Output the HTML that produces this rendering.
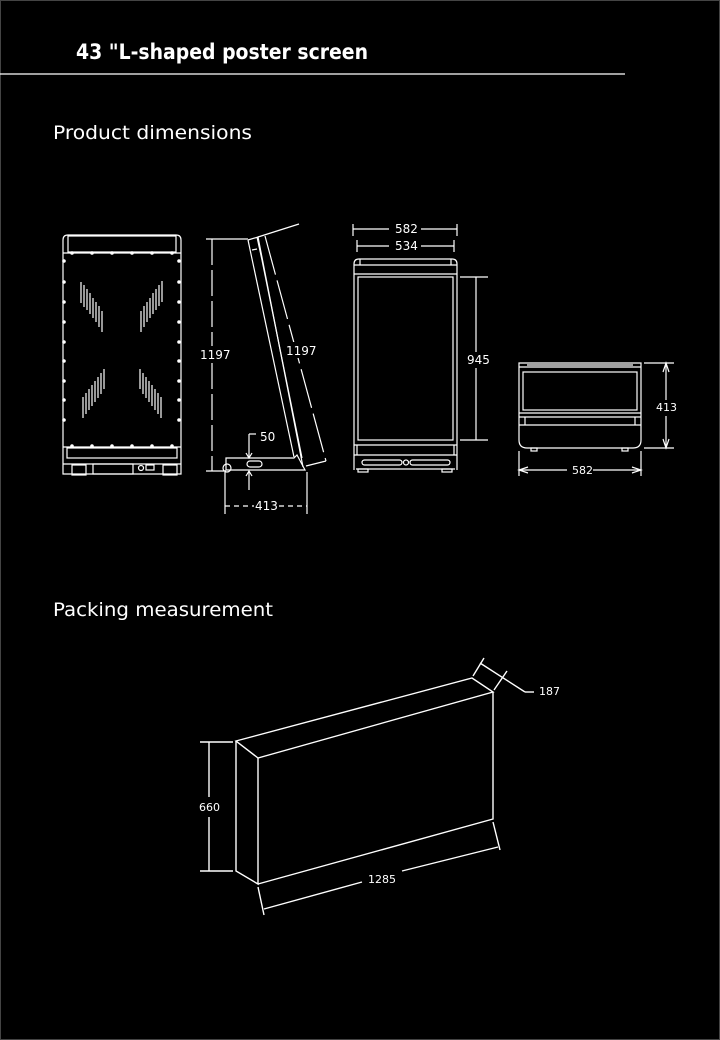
<!DOCTYPE html>
<html><head><meta charset="utf-8"><style>
html,body{margin:0;padding:0;background:#000;}
body{width:720px;height:1040px;position:relative;overflow:hidden;font-family:"Liberation Sans",sans-serif;}
svg{position:absolute;left:0;top:0;}
.t{font-family:"DejaVu Sans","Liberation Sans",sans-serif;fill:#fff;}
</style></head><body>
<svg width="720" height="1040" viewBox="0 0 720 1040">
<rect x="0.5" y="0.5" width="719" height="1039" fill="none" stroke="#444" stroke-width="1"/>
<text x="76" y="59" class="t" font-size="21" font-weight="bold" textLength="292" lengthAdjust="spacingAndGlyphs">43 "L-shaped poster screen</text>
<line x1="0" y1="74" x2="625" y2="74" stroke="#fff" stroke-width="1.2"/>
<text x="53" y="139" class="t" font-size="19" textLength="199" lengthAdjust="spacingAndGlyphs">Product  dimensions</text>
<text x="53" y="616" class="t" font-size="19" textLength="220" lengthAdjust="spacingAndGlyphs">Packing  measurement</text>

<g stroke="#fff" fill="none" stroke-width="1.2">
<path d="M63 474 V240 Q63 235 68 235 H176 Q181 235 181 240 V474 Z"/>
<rect x="68" y="236" width="108" height="16"/>
<line x1="63" y1="253" x2="181" y2="253"/>
<line x1="63" y1="447" x2="181" y2="447"/>
<rect x="67" y="448" width="110" height="10"/>
<line x1="63" y1="464" x2="181" y2="464"/>
<rect x="93" y="464" width="40" height="10"/>
<rect x="72" y="465" width="14" height="10"/><rect x="163" y="465" width="14" height="10"/>
<circle cx="141" cy="468" r="2.5"/><rect x="146" y="465" width="8" height="5"/>
</g>
<g fill="#fff">
<circle cx="72" cy="253" r="1.8"/><circle cx="92" cy="253" r="1.8"/><circle cx="112" cy="253" r="1.8"/><circle cx="132" cy="253" r="1.8"/><circle cx="152" cy="253" r="1.8"/><circle cx="172" cy="253" r="1.8"/>
<circle cx="72" cy="446" r="1.8"/><circle cx="92" cy="446" r="1.8"/><circle cx="112" cy="446" r="1.8"/><circle cx="132" cy="446" r="1.8"/><circle cx="152" cy="446" r="1.8"/><circle cx="172" cy="446" r="1.8"/>
<circle cx="64" cy="261" r="1.8"/><circle cx="64" cy="282" r="1.8"/><circle cx="64" cy="302" r="1.8"/><circle cx="64" cy="322" r="1.8"/><circle cx="64" cy="342" r="1.8"/><circle cx="64" cy="361" r="1.8"/><circle cx="64" cy="381" r="1.8"/><circle cx="64" cy="400" r="1.8"/><circle cx="64" cy="420" r="1.8"/>
<circle cx="179" cy="261" r="1.8"/><circle cx="179" cy="282" r="1.8"/><circle cx="179" cy="302" r="1.8"/><circle cx="179" cy="322" r="1.8"/><circle cx="179" cy="342" r="1.8"/><circle cx="179" cy="361" r="1.8"/><circle cx="179" cy="381" r="1.8"/><circle cx="179" cy="400" r="1.8"/><circle cx="179" cy="420" r="1.8"/>
</g>
<g stroke="#fff" stroke-width="1.2">
<line x1="81" y1="282" x2="81" y2="303"/><line x1="84" y1="285" x2="84" y2="307"/><line x1="87" y1="289" x2="87" y2="310"/><line x1="90" y1="293" x2="90" y2="314"/><line x1="93" y1="298" x2="93" y2="318"/><line x1="96" y1="302" x2="96" y2="322"/><line x1="99" y1="306" x2="99" y2="327"/><line x1="102" y1="311" x2="102" y2="332"/>
<line x1="162" y1="281" x2="162" y2="302"/><line x1="159" y1="285" x2="159" y2="306"/><line x1="156" y1="289" x2="156" y2="310"/><line x1="153" y1="293" x2="153" y2="314"/><line x1="150" y1="298" x2="150" y2="318"/><line x1="147" y1="302" x2="147" y2="322"/><line x1="144" y1="306" x2="144" y2="327"/><line x1="141" y1="311" x2="141" y2="332"/>
<line x1="104" y1="369" x2="104" y2="389"/><line x1="101" y1="373" x2="101" y2="394"/><line x1="98" y1="377" x2="98" y2="398"/><line x1="95" y1="381" x2="95" y2="402"/><line x1="92" y1="385" x2="92" y2="406"/><line x1="89" y1="389" x2="89" y2="410"/><line x1="86" y1="393" x2="86" y2="414"/><line x1="83" y1="397" x2="83" y2="418"/>
<line x1="140" y1="369" x2="140" y2="389"/><line x1="143" y1="373" x2="143" y2="394"/><line x1="146" y1="377" x2="146" y2="398"/><line x1="149" y1="381" x2="149" y2="402"/><line x1="152" y1="385" x2="152" y2="406"/><line x1="155" y1="389" x2="155" y2="410"/><line x1="158" y1="393" x2="158" y2="414"/><line x1="161" y1="397" x2="161" y2="418"/>
</g>

<g stroke="#fff" fill="none" stroke-width="1.2">
<line x1="206" y1="239" x2="248" y2="239"/>
<line x1="206" y1="471" x2="226" y2="471"/>
<line x1="212" y1="239" x2="212" y2="471" stroke-dasharray="26 5"/>
<path d="M248 240 L258 237 L303 467"/>
<path d="M248 240 L294 457"/>
<path d="M252 250 L257 249"/>
<line x1="257" y1="237" x2="262" y2="260"/>
<line x1="262" y1="260" x2="302" y2="458"/>
<line x1="258" y1="237" x2="299" y2="224"/>
<line x1="306" y1="466" x2="326" y2="461"/>
<line x1="265" y1="236" x2="326" y2="461" stroke-dasharray="40 6"/>
<path d="M226 458 H294 L297 455 L305 470 H226 Z"/>
<circle cx="227" cy="468" r="4"/>
<rect x="247" y="461" width="15" height="6" rx="3"/>
<polyline points="249,434 249,458"/><line x1="249" y1="434" x2="256" y2="434"/>
<path d="M246 453 L249 458 L252 453"/>
<line x1="249" y1="471" x2="249" y2="490"/><path d="M246 476 L249 471 L252 476"/>
<line x1="225" y1="472" x2="225" y2="514"/><line x1="307" y1="472" x2="307" y2="514"/>
<line x1="225" y1="506" x2="307" y2="506" stroke-dasharray="5 4"/>
</g>
<rect x="254" y="500" width="24" height="12" fill="#000"/>
<text x="255" y="510" class="t" font-size="12">413</text>
<rect x="199" y="346" width="30" height="16" fill="#000"/>
<text x="200" y="359" class="t" font-size="12">1197</text>
<rect x="285" y="342" width="30" height="16" fill="#000"/>
<text x="286" y="355" class="t" font-size="12">1197</text>
<text x="260" y="441" class="t" font-size="12">50</text>

<g stroke="#fff" fill="none" stroke-width="1.2">
<path d="M354 470 V264 Q354 259 359 259 H452 Q457 259 457 264 V470"/>
<line x1="354" y1="265" x2="457" y2="265"/>
<line x1="360" y1="259" x2="360" y2="265"/><line x1="451" y1="259" x2="451" y2="265"/>
<line x1="354" y1="274" x2="457" y2="274"/>
<rect x="358" y="277" width="95" height="163"/>
<line x1="354" y1="445" x2="457" y2="445"/>
<line x1="357" y1="445" x2="357" y2="455"/><line x1="454" y1="445" x2="454" y2="455"/>
<line x1="354" y1="455" x2="457" y2="455"/>
<rect x="362" y="460" width="40" height="5" rx="2.5"/><rect x="410" y="460" width="40" height="5" rx="2.5"/>
<circle cx="406" cy="462.5" r="2.5"/>
<line x1="356" y1="469" x2="455" y2="469"/>
<rect x="358" y="469" width="10" height="3"/><rect x="442" y="469" width="10" height="3"/>
<line x1="353" y1="224" x2="353" y2="236"/><line x1="457" y1="224" x2="457" y2="236"/>
<line x1="353" y1="229" x2="457" y2="229"/>
<line x1="357" y1="240" x2="357" y2="252"/><line x1="454" y1="240" x2="454" y2="252"/>
<line x1="357" y1="246" x2="454" y2="246"/>
<line x1="460" y1="277" x2="488" y2="277"/><line x1="460" y1="440" x2="488" y2="440"/>
<line x1="476" y1="277" x2="476" y2="440"/>
</g>
<rect x="389" y="222" width="32" height="14" fill="#000"/>
<text x="395" y="233" class="t" font-size="12">582</text>
<rect x="389" y="239" width="32" height="14" fill="#000"/>
<text x="395" y="250" class="t" font-size="12">534</text>
<rect x="466" y="352" width="24" height="16" fill="#000"/>
<text x="467" y="364" class="t" font-size="12">945</text>

<g stroke="#fff" fill="none" stroke-width="1.2">
<path d="M519 363 H641 V440 Q641 448 633 448 H527 Q519 448 519 440 Z"/>
<line x1="519" y1="367" x2="641" y2="367"/>
<line x1="527" y1="365" x2="633" y2="365"/>
<rect x="523" y="372" width="114" height="38"/>
<line x1="519" y1="413" x2="641" y2="413"/>
<line x1="519" y1="417" x2="641" y2="417"/>
<line x1="519" y1="425" x2="641" y2="425"/>
<line x1="525" y1="417" x2="525" y2="425"/><line x1="635" y1="417" x2="635" y2="425"/>
<rect x="531" y="448" width="6" height="3"/><rect x="622" y="448" width="6" height="3"/>
<line x1="644" y1="363" x2="674" y2="363"/><line x1="644" y1="448" x2="674" y2="448"/>
<line x1="666" y1="363" x2="666" y2="448"/>
<path d="M663 372 L666 363 L669 372 M663 439 L666 448 L669 439"/>
<line x1="519" y1="451" x2="519" y2="476"/><line x1="641" y1="451" x2="641" y2="476"/>
<line x1="519" y1="470" x2="641" y2="470"/>
<path d="M528 467 L519 470 L528 473 M632 467 L641 470 L632 473"/>
</g>
<rect x="656" y="400" width="22" height="16" fill="#000"/>
<text x="656" y="411" class="t" font-size="11">413</text>
<rect x="567" y="463" width="26" height="14" fill="#000"/>
<text x="572" y="474" class="t" font-size="11">582</text>

<g stroke="#fff" fill="none" stroke-width="1.4">
<path d="M236 741 L472 678 L493 692 L258 758 Z"/>
<path d="M236 741 V871 L258 884 V758"/>
<path d="M258 884 L493 819 V692"/>
<line x1="200" y1="742" x2="233" y2="742"/><line x1="200" y1="871" x2="233" y2="871"/>
<line x1="209" y1="742" x2="209" y2="797"/><line x1="209" y1="817" x2="209" y2="871"/>
<line x1="258" y1="887" x2="264" y2="915"/><line x1="493" y1="822" x2="500" y2="850"/>
<line x1="264" y1="909" x2="362" y2="882"/><line x1="402" y1="871" x2="498" y2="847"/>
<line x1="473" y1="676" x2="484" y2="658"/><line x1="494" y1="690" x2="507" y2="671"/>
<line x1="480" y1="663" x2="525" y2="692"/><line x1="525" y1="692" x2="534" y2="692"/>
</g>
<text x="199" y="811" class="t" font-size="11">660</text>
<text x="368" y="883" class="t" font-size="11">1285</text>
<text x="539" y="695" class="t" font-size="11">187</text>
</svg>
</body></html>
